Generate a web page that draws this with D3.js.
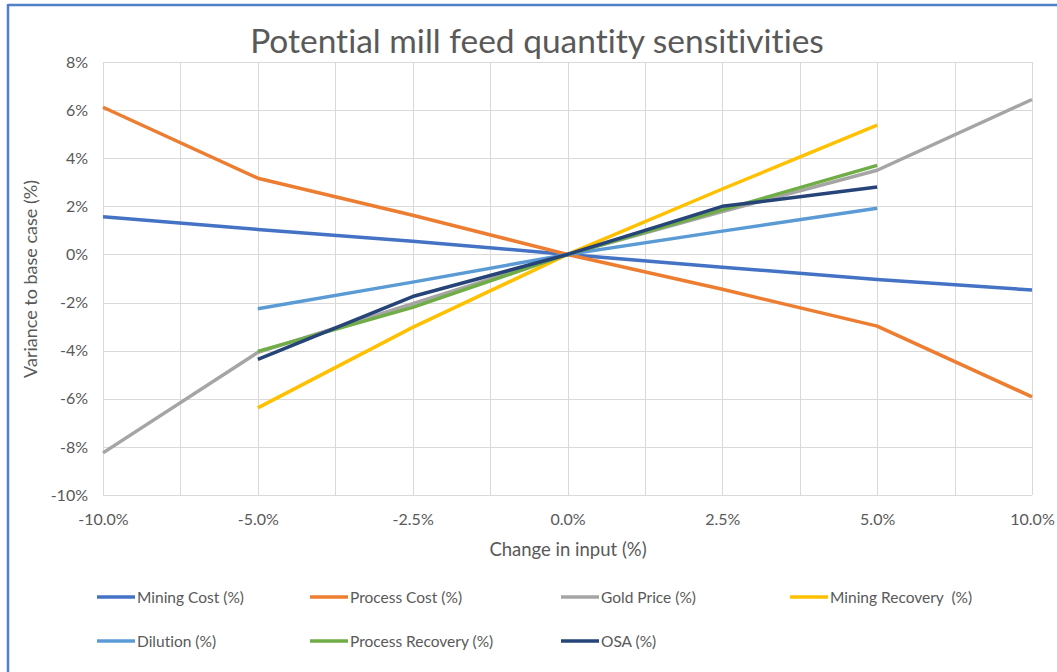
<!DOCTYPE html>
<html>
<head>
<meta charset="utf-8">
<script src="https://cdn.jsdelivr.net/npm/d3@7"></script>
<style>
  html, body { margin: 0; padding: 0; background: #fff; }
  svg { display: block; }
  text { font-family: Lato, "Open Sans", sans-serif; fill: #595959; font-variant-ligatures: none; white-space: pre; }
</style>
</head>
<body>
<svg id="chart" width="1057" height="672"></svg>
<script>
// Change in input (category axis)
const categories = ["-10.0%", "-5.0%", "-2.5%", "0.0%", "2.5%", "5.0%", "10.0%"];

// Variance to base case (%), one value per category; null where not run
const miningCost      = [1.57, 1.04, 0.55, 0, -0.53, -1.04, -1.48];
const processCost     = [6.12, 3.17, 1.63, 0, -1.45, -2.98, -5.92];
const goldPrice       = [-8.25, -4.07, -2.05, 0, 1.78, 3.5, 6.44];
const miningRecovery  = [null, -6.38, -3.03, 0, 2.72, 5.38, null];
const dilution        = [null, -2.26, -1.15, 0, 0.97, 1.92, null];
const processRecovery = [null, -4.03, -2.2, 0, 1.85, 3.7, null];
const osa             = [null, -4.36, -1.75, 0, 2.0, 2.8, null];

const yTicks = [-10, -8, -6, -4, -2, 0, 2, 4, 6, 8];

const series = [
  { name: "Mining Cost (%)",       values: miningCost,      color: "#4472C4" },
  { name: "Process Cost (%)",      values: processCost,     color: "#ED7D31" },
  { name: "Gold Price (%)",        values: goldPrice,       color: "#A5A5A5" },
  { name: "Mining Recovery  (%)",  values: miningRecovery,  color: "#FFC000" },
  { name: "Dilution (%)",          values: dilution,        color: "#5B9BD5" },
  { name: "Process Recovery (%)",  values: processRecovery, color: "#70AD47" },
  { name: "OSA (%)",               values: osa,             color: "#264478" }
];

const svg = d3.select("#chart");
const plot = { left: 103, right: 1032, top: 62, bottom: 495 };

// Frame lines along the top and left edge
svg.append("line").attr("x1", 8).attr("x2", 1057).attr("y1", 5).attr("y2", 5)
  .attr("stroke", "#4f81c7").attr("stroke-width", 2.5);
svg.append("line").attr("x1", 8).attr("x2", 8).attr("y1", 4).attr("y2", 672)
  .attr("stroke", "#4f81c7").attr("stroke-width", 2.5);

const x = d3.scalePoint().domain(categories).range([plot.left, plot.right]);
const y = d3.scaleLinear().domain([-10, 8]).range([plot.bottom, plot.top]);

// Gridlines: horizontal at each tick, vertical at each category and halfway between
const grid = svg.append("g").attr("stroke", "#d9d9d9").attr("stroke-width", 1);
yTicks.forEach(t => {
  grid.append("line").attr("x1", plot.left).attr("x2", plot.right)
    .attr("y1", Math.round(y(t)) + 0.5).attr("y2", Math.round(y(t)) + 0.5);
});
const vPos = [];
categories.forEach((c, i) => {
  vPos.push(x(c));
  if (i < categories.length - 1) vPos.push((x(c) + x(categories[i + 1])) / 2);
});
vPos.forEach(px => {
  grid.append("line").attr("x1", Math.round(px) + 0.5).attr("x2", Math.round(px) + 0.5)
    .attr("y1", plot.top).attr("y2", plot.bottom);
});

// Y axis labels
const yAxis = svg.append("g").attr("transform", `translate(${plot.left},0)`)
  .call(d3.axisLeft(y).tickValues(yTicks).tickSize(0).tickPadding(15).tickFormat(d => d + "%"));
yAxis.select(".domain").remove();
yAxis.selectAll("text").style("font-size", "16px").style("fill", "#595959");

// X axis labels
const xAxis = svg.append("g").attr("transform", `translate(0,${plot.bottom})`)
  .call(d3.axisBottom(x).tickSize(0).tickPadding(19));
xAxis.select(".domain").remove();
xAxis.selectAll("text").style("font-size", "16px").style("fill", "#595959");

// Lines
const line = d3.line()
  .defined(d => d.v !== null)
  .x(d => x(d.c))
  .y(d => y(d.v));

svg.append("g").selectAll("path").data(series).join("path")
  .attr("fill", "none")
  .attr("stroke", d => d.color)
  .attr("stroke-width", 3.5)
  .attr("stroke-linejoin", "round")
  .attr("d", d => line(d.values.map((v, i) => ({ c: categories[i], v }))));

// Title
svg.append("text").attr("x", 537).attr("y", 53).attr("text-anchor", "middle")
  .style("font-size", "33.5px").text("Potential mill feed quantity sensitivities");

// Axis titles
svg.append("text").attr("x", 568).attr("y", 556).attr("text-anchor", "middle")
  .style("font-size", "18.5px").text("Change in input (%)");
svg.append("text").attr("transform", "translate(37,279) rotate(-90)").attr("text-anchor", "middle")
  .style("font-size", "18px").text("Variance to base case (%)");

// Legend
const legendPos = [
  { x: 97,  y: 597 }, { x: 310, y: 597 }, { x: 561, y: 597 }, { x: 790, y: 597 },
  { x: 97,  y: 641 }, { x: 310, y: 641 }, { x: 561, y: 641 }
];
const legend = svg.append("g");
series.forEach((s, i) => {
  const p = legendPos[i];
  legend.append("line").attr("x1", p.x).attr("x2", p.x + 38)
    .attr("y1", p.y).attr("y2", p.y)
    .attr("stroke", s.color).attr("stroke-width", 3.5);
  legend.append("text").attr("x", p.x + 40).attr("y", p.y + 5.5)
    .style("font-size", "15.5px").text(s.name);
});
</script>
</body>
</html>
